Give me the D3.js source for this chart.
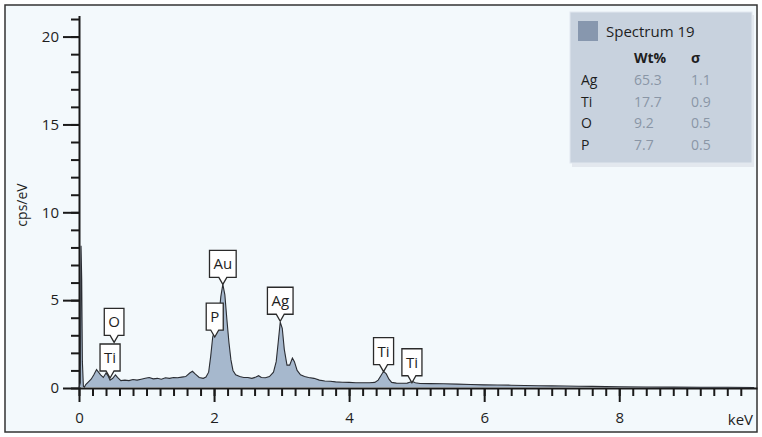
<!DOCTYPE html>
<html>
<head>
<meta charset="utf-8">
<script src="https://cdn.jsdelivr.net/npm/d3@7"></script>
<style>
  body { margin: 0; background: #fff; }
  text { font-family: "Open Sans", "Noto Sans", sans-serif; fill: #1e1e1e; }
</style>
</head>
<body>
<div id="chart"></div>
<script>
// Espectro EDS (keV, cps/eV)
const energy = [0.00,0.02,0.03,0.04,0.05,0.065,0.08,0.10,0.14,0.18,0.22,0.26,0.28,0.32,0.36,0.40,0.43,0.46,0.50,0.54,0.57,
  0.62,0.68,0.74,0.80,0.86,0.92,0.98,1.04,1.10,1.16,1.22,1.28,1.34,1.40,1.46,1.52,1.58,1.64,1.68,1.72,
  1.78,1.84,1.88,1.92,1.95,1.98,2.01,2.04,2.07,2.10,2.13,2.16,2.19,2.22,2.25,2.28,2.32,2.38,2.44,2.50,
  2.56,2.62,2.66,2.70,2.76,2.82,2.88,2.92,2.95,2.98,3.01,3.04,3.08,3.12,3.16,3.19,3.23,3.28,3.34,3.40,
  3.48,3.56,3.64,3.72,3.80,3.90,4.00,4.10,4.20,4.30,4.38,4.43,4.47,4.51,4.55,4.59,4.63,4.70,4.78,4.86,
  4.91,4.94,4.98,5.05,5.20,5.40,5.60,5.80,6.00,6.20,6.40,6.60,6.80,7.00,7.20,7.40,7.60,7.80,8.00,8.40,
  8.80,9.20,9.60,10.0];
const counts = [0.0,0.3,8.1,6.2,1.5,0.1,0.05,0.2,0.35,0.5,0.75,1.05,0.95,0.75,0.6,0.85,0.7,0.45,0.55,0.75,0.6,
  0.42,0.45,0.42,0.48,0.45,0.5,0.55,0.6,0.52,0.55,0.5,0.58,0.55,0.6,0.58,0.62,0.65,0.85,0.95,0.8,
  0.6,0.55,0.62,0.9,1.8,2.9,3.3,3.4,4.0,5.2,5.9,5.3,3.9,2.6,1.6,1.0,0.75,0.65,0.6,0.6,
  0.55,0.62,0.7,0.6,0.58,0.65,0.9,1.5,2.6,3.75,3.4,2.2,1.3,1.3,1.7,1.5,1.0,0.75,0.65,0.6,
  0.55,0.45,0.4,0.38,0.35,0.33,0.32,0.3,0.3,0.3,0.32,0.45,0.7,0.95,0.8,0.5,0.32,0.28,0.27,0.28,
  0.34,0.37,0.3,0.26,0.25,0.24,0.22,0.2,0.18,0.17,0.16,0.14,0.13,0.12,0.11,0.1,0.09,0.08,0.07,0.06,
  0.05,0.04,0.04,0.03];

// Etiquetas de picos
const peakNames = ["Ti", "O", "P", "Au", "Ag", "Ti", "Ti"];
const peakEnergy = [0.46, 0.52, 2.01, 2.13, 2.98, 4.51, 4.93];
const peakTip = [0.57, 2.6, 2.9, 5.9, 3.8, 0.93, 0.3];

// Tabla de la leyenda
const legendTitle = "Spectrum 19";
const elements = ["Ag", "Ti", "O", "P"];
const wtPct = ["65.3", "17.7", "9.2", "7.7"];
const sigma = ["1.1", "0.9", "0.5", "0.5"];

const xMajor = [0, 2, 4, 6, 8];
const yMajor = [0, 5, 10, 15, 20];

const W = 762, H = 437;
const svg = d3.select("#chart").append("svg")
    .attr("width", W)
    .attr("height", H);

// Fondo y marco
svg.append("rect")
    .attr("x", 5).attr("y", 5)
    .attr("width", 752).attr("height", 427)
    .attr("fill", "#f3f9fc")
    .attr("stroke", "#333")
    .attr("stroke-width", 1.5);

// Escalas
const x = d3.scaleLinear().domain([0, 10.04]).range([79, 757]);
const y = d3.scaleLinear().domain([0, 21.2]).range([388, 15.5]);

const data = energy.map((e, i) => ({ e: e, c: counts[i] }));

// Ejes (debajo del espectro para que el pico de 0 keV se vea)
const minorX = d3.range(0, 9.81, 0.2);
svg.append("g")
    .attr("transform", `translate(0,${y(0)})`)
    .call(d3.axisBottom(x).tickValues(minorX).tickSize(8).tickSizeOuter(0).tickFormat(""))
    .call(g => g.selectAll("line, path").attr("stroke", "#1a1a1a").attr("stroke-width", 2));

svg.append("g")
    .attr("transform", `translate(0,${y(0)})`)
    .call(d3.axisBottom(x).tickValues(xMajor).tickSize(14).tickSizeOuter(0).tickPadding(10))
    .call(g => g.select(".domain").remove())
    .call(g => g.selectAll("line").attr("stroke", "#1a1a1a").attr("stroke-width", 2))
    .call(g => g.selectAll("text").attr("font-size", 15).attr("fill", "#1e1e1e")
        .style("font-family", '"Open Sans", sans-serif'));

const minorY = d3.range(0, 21.01, 1);
svg.append("g")
    .attr("transform", `translate(${x(0)},0)`)
    .call(d3.axisLeft(y).tickValues(minorY).tickSize(8).tickSizeOuter(0).tickFormat(""))
    .call(g => g.selectAll("line, path").attr("stroke", "#1a1a1a").attr("stroke-width", 2));

svg.append("g")
    .attr("transform", `translate(${x(0)},0)`)
    .call(d3.axisLeft(y).tickValues(yMajor).tickSize(16).tickSizeOuter(0).tickPadding(4))
    .call(g => g.select(".domain").remove())
    .call(g => g.selectAll("line").attr("stroke", "#1a1a1a").attr("stroke-width", 2))
    .call(g => g.selectAll("text").attr("font-size", 15).attr("fill", "#1e1e1e")
        .style("font-family", '"Open Sans", sans-serif'));

// Área del espectro
svg.append("path")
    .datum(data)
    .attr("fill", "#a6b8cd")
    .attr("d", d3.area().x(d => x(d.e)).y0(y(0) - 1).y1(d => y(d.c)));

svg.append("path")
    .datum(data)
    .attr("fill", "none")
    .attr("stroke", "#2a2d33")
    .attr("stroke-width", 1.1)
    .attr("d", d3.line().x(d => x(d.e)).y(d => y(d.c)));

svg.append("text")
    .attr("x", 753).attr("y", 425)
    .attr("text-anchor", "end")
    .attr("font-size", 15)
    .text("keV");

svg.append("text")
    .attr("transform", "translate(27,205) rotate(-90)")
    .attr("text-anchor", "middle")
    .attr("font-size", 14)
    .text("cps/eV");

// Etiquetas de picos con puntero
const boxH = 27, tipH = 7;
peakNames.forEach((name, i) => {
    const px = x(peakEnergy[i]);
    const py = y(peakTip[i]);
    const g = svg.append("g");
    const t = g.append("text")
        .attr("x", px)
        .attr("y", py - tipH - 8)
        .attr("text-anchor", "middle")
        .attr("font-size", 15)
        .text(name);
    const tw = t.node().getComputedTextLength();
    const hw = tw / 2 + 4;
    const top = py - tipH - boxH, bot = py - tipH;
    g.insert("path", "text")
        .attr("d", `M${px - hw},${top}H${px + hw}V${bot}H${px + 4}L${px},${py}L${px - 4},${bot}H${px - hw}Z`)
        .attr("fill", "#fff")
        .attr("stroke", "#2a2a2a")
        .attr("stroke-width", 1.3);
});

// Leyenda
const lg = svg.append("g");
lg.append("rect")
    .attr("x", 572).attr("y", 15)
    .attr("width", 182).attr("height", 152)
    .attr("fill", "#dfe4ea").attr("opacity", 0.8);
lg.append("rect")
    .attr("x", 570).attr("y", 12)
    .attr("width", 182).attr("height", 151)
    .attr("fill", "#c8d2de")
    .attr("stroke", "#e2e8ef");
lg.append("rect")
    .attr("x", 578).attr("y", 21)
    .attr("width", 20).attr("height", 20)
    .attr("fill", "#8797ae");
lg.append("text")
    .attr("x", 606).attr("y", 37)
    .attr("font-size", 15)
    .text(legendTitle);
lg.append("text")
    .attr("x", 634).attr("y", 63)
    .attr("font-size", 14).attr("font-weight", "bold")
    .text("Wt%");
lg.append("text")
    .attr("x", 691).attr("y", 63)
    .attr("font-size", 14).attr("font-weight", "bold")
    .text("σ");
elements.forEach((el, i) => {
    const yy = 85 + i * 21.7;
    lg.append("text").attr("x", 581).attr("y", yy).attr("font-size", 14).text(el);
    lg.append("text").attr("x", 634).attr("y", yy).attr("font-size", 14)
        .style("fill", "#8a96a6").text(wtPct[i]);
    lg.append("text").attr("x", 691).attr("y", yy).attr("font-size", 14)
        .style("fill", "#8a96a6").text(sigma[i]);
});
</script>
</body>
</html>
